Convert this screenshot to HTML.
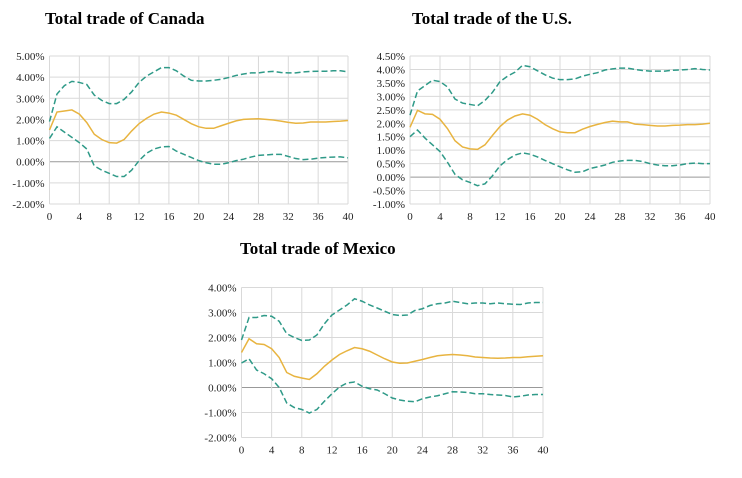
<!DOCTYPE html>
<html><head><meta charset="utf-8"><style>
body{margin:0;background:#fff;width:742px;height:473px;overflow:hidden}
svg text{font-family:"Liberation Serif",serif}
</style></head><body>
<svg id="root" width="742" height="473">
<text x="45" y="24" font-size="17" font-weight="bold">Total trade of Canada</text>
<text x="412" y="24" font-size="17" font-weight="bold">Total trade of the U.S.</text>
<text x="240" y="254" font-size="17" font-weight="bold">Total trade of Mexico</text>
</svg>
<script>
const xTicks=[0,4,8,12,16,20,24,28,32,36,40];
const caMid=[1.5,2.35,2.4,2.45,2.25,1.85,1.3,1.05,0.9,0.88,1.05,1.45,1.8,2.05,2.25,2.35,2.3,2.2,2.0,1.8,1.65,1.58,1.58,1.7,1.82,1.93,2.0,2.02,2.03,2.0,1.97,1.92,1.86,1.82,1.83,1.88,1.88,1.88,1.9,1.92,1.95];
const caUp=[1.9,3.2,3.6,3.8,3.75,3.65,3.15,2.9,2.75,2.75,2.95,3.3,3.75,4.05,4.25,4.45,4.45,4.3,4.05,3.85,3.82,3.82,3.85,3.9,3.98,4.08,4.15,4.2,4.2,4.25,4.27,4.22,4.2,4.2,4.25,4.27,4.28,4.28,4.3,4.3,4.25];
const caLo=[1.1,1.65,1.4,1.15,0.9,0.6,-0.2,-0.4,-0.55,-0.7,-0.7,-0.4,0.05,0.4,0.6,0.7,0.72,0.5,0.35,0.2,0.05,-0.05,-0.12,-0.12,-0.05,0.05,0.12,0.22,0.3,0.32,0.35,0.35,0.25,0.15,0.1,0.12,0.17,0.2,0.22,0.23,0.18];
const usMid=[1.85,2.48,2.35,2.33,2.15,1.8,1.35,1.12,1.05,1.03,1.2,1.55,1.88,2.12,2.27,2.35,2.3,2.15,1.95,1.8,1.68,1.65,1.65,1.78,1.88,1.96,2.03,2.08,2.05,2.05,1.97,1.95,1.92,1.9,1.9,1.92,1.93,1.95,1.95,1.97,2.0];
const usUp=[2.3,3.2,3.4,3.6,3.55,3.35,2.9,2.75,2.7,2.65,2.85,3.15,3.55,3.75,3.9,4.15,4.1,3.95,3.8,3.68,3.62,3.62,3.65,3.75,3.82,3.88,3.98,4.02,4.05,4.05,4.0,3.96,3.94,3.94,3.94,3.97,3.98,4.0,4.03,4.0,3.98];
const usLo=[1.5,1.75,1.45,1.2,0.95,0.55,0.1,-0.1,-0.2,-0.32,-0.25,0.05,0.42,0.65,0.82,0.9,0.85,0.75,0.62,0.5,0.38,0.27,0.18,0.2,0.32,0.38,0.45,0.55,0.6,0.62,0.62,0.58,0.5,0.45,0.42,0.42,0.45,0.5,0.52,0.5,0.5];
const mxMid=[1.4,1.95,1.75,1.72,1.55,1.2,0.6,0.45,0.38,0.32,0.55,0.85,1.1,1.32,1.47,1.6,1.55,1.45,1.3,1.15,1.02,0.97,0.98,1.05,1.12,1.2,1.27,1.3,1.32,1.3,1.27,1.22,1.2,1.18,1.17,1.18,1.2,1.2,1.23,1.25,1.27];
const mxUp=[1.9,2.8,2.8,2.88,2.85,2.65,2.15,2.0,1.88,1.9,2.1,2.55,2.9,3.1,3.3,3.55,3.45,3.3,3.18,3.05,2.92,2.88,2.9,3.08,3.15,3.28,3.35,3.38,3.45,3.4,3.35,3.38,3.38,3.35,3.38,3.35,3.33,3.32,3.38,3.4,3.4];
const mxLo=[0.98,1.15,0.7,0.55,0.35,0.0,-0.62,-0.8,-0.88,-1.02,-0.88,-0.55,-0.25,0.02,0.18,0.22,0.05,-0.05,-0.1,-0.25,-0.42,-0.5,-0.55,-0.57,-0.45,-0.38,-0.33,-0.25,-0.17,-0.18,-0.2,-0.25,-0.25,-0.28,-0.3,-0.32,-0.38,-0.35,-0.3,-0.28,-0.28];
const caYTicks=[5,4,3,2,1,0,-1,-2];
const usYTicks=[4.5,4,3.5,3,2.5,2,1.5,1,0.5,0,-0.5,-1];
const mxYTicks=[4,3,2,1,0,-1,-2];
const NS="http://www.w3.org/2000/svg";
const root=document.getElementById('root');
function mk(tag,attrs,parent){const e=document.createElementNS(NS,tag);for(const k in attrs)e.setAttribute(k,attrs[k]);parent.appendChild(e);return e;}
function chart(id,x0,x1,yTop,yBot,yTicks,mid,up,lo){
  const g=mk('g',{},root);
  
  
  const yMax=yTicks[0],yMin=yTicks[yTicks.length-1];
  const sx=v=>x0+(v-0)/(40-0)*(x1-x0);
  const sy=v=>yTop+(yMax-v)/(yMax-yMin)*(yBot-yTop);
  yTicks.forEach(t=>{
    const ln=mk('line',{x1:x0,x2:x1,y1:sy(t),y2:sy(t),stroke:t===0?'#999':'#d9d9d9','stroke-width':1},g);
    
    
    const tx=mk('text',{x:x0-5,y:sy(t)+4,'font-size':11,'text-anchor':'end',fill:'#222'},g);
    tx.textContent=(t<0?'-':'')+Math.abs(t).toFixed(2)+'%';
    
    
  });
  xTicks.forEach(t=>{
    const ln=mk('line',{x1:sx(t),x2:sx(t),y1:yTop,y2:yBot,stroke:'#d9d9d9','stroke-width':1},g);
    
    
    const tx=mk('text',{x:sx(t),y:yBot+16,'font-size':11,'text-anchor':'middle',fill:'#222'},g);
    tx.textContent=t;
    
    
  });
  const line=(arr,color,dash,name)=>{
    const p=mk('polyline',{points:arr.map((v,i)=>sx(i)+','+sy(v)).join(' '),fill:'none',stroke:color,'stroke-width':1.5,'stroke-dasharray':dash},g);
    
    
  };
  line(up,'#2f9a88','6 3',id+'-upper-band');
  line(lo,'#2f9a88','6 3',id+'-lower-band');
  line(mid,'#e8b440','none',id+'-response-line');
}
chart('canada',49.5,348,56,204,caYTicks,caMid,caUp,caLo);
chart('us',410,710,56,204,usYTicks,usMid,usUp,usLo);
chart('mexico',241.5,543,287.5,437.5,mxYTicks,mxMid,mxUp,mxLo);
</script>
</body></html>
